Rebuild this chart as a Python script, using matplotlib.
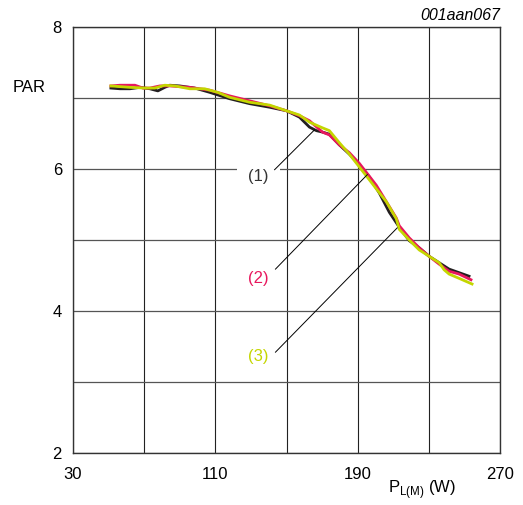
import matplotlib
matplotlib.use('Agg')
import matplotlib.pyplot as plt

plt.rcParams['font.family'] = ['Liberation Sans', 'DejaVu Sans']

# curve (1) - black
x1 = [51.3, 56.4, 62.0, 67.6, 73.2, 77.7, 81.6, 84.4, 90.0, 98.4, 106.8, 118.0, 129.3, 140.5,
      150.0, 157.3, 162.9, 166.8, 170.2, 174.1, 179.7, 185.3, 190.9, 196.5, 202.2, 207.8,
      213.4, 219.0, 224.6, 230.2, 235.8, 241.4, 247.0, 252.6]
y1 = [7.14, 7.13, 7.13, 7.15, 7.13, 7.10, 7.15, 7.18, 7.17, 7.14, 7.08, 6.99, 6.92, 6.87,
      6.82, 6.73, 6.59, 6.54, 6.52, 6.49, 6.34, 6.21, 6.06, 5.89, 5.66, 5.39,
      5.18, 4.99, 4.89, 4.77, 4.68, 4.59, 4.54, 4.49]

# curve (2) - red
x2 = [51.3, 56.4, 64.8, 69.3, 73.2, 78.8, 84.4, 95.6, 106.8, 118.0, 129.3, 140.5, 150.0,
      157.3, 162.9, 170.2, 174.1, 179.7, 185.3, 190.9, 196.5, 200.5, 206.1, 211.7, 213.4,
      219.0, 224.6, 230.2, 235.8, 241.4, 247.0, 253.7]
y2 = [7.17, 7.18, 7.18, 7.14, 7.14, 7.17, 7.17, 7.15, 7.11, 7.03, 6.96, 6.89, 6.82,
      6.75, 6.68, 6.52, 6.48, 6.34, 6.23, 6.08, 5.90, 5.77, 5.54, 5.31, 5.20,
      5.03, 4.89, 4.77, 4.66, 4.56, 4.52, 4.44]

# curve (3) - green
x3 = [51.3, 62.0, 70.4, 76.0, 81.6, 87.2, 95.6, 104.0, 111.3, 118.0, 129.3, 140.5, 150.0,
      157.3, 162.9, 170.2, 174.1, 179.7, 185.3, 190.9, 196.5, 200.5, 206.1, 211.7, 213.4,
      219.0, 224.6, 230.2, 235.8, 238.6, 241.4, 247.0, 254.3]
y3 = [7.17, 7.15, 7.14, 7.14, 7.18, 7.17, 7.13, 7.13, 7.08, 7.01, 6.94, 6.90, 6.82,
      6.76, 6.66, 6.58, 6.54, 6.37, 6.21, 6.03, 5.85, 5.72, 5.54, 5.30, 5.15,
      5.00, 4.86, 4.77, 4.68, 4.58, 4.52, 4.46, 4.38]

xticks = [30, 110, 190, 270]
yticks = [2, 4, 6, 8]

black = '#231f20'
red = '#e8175d'
green = '#c4d600'

fig = plt.figure(figsize=(5.23, 5.05), dpi=100)
ax = fig.add_axes([73/523, 1-453/505, 427/523, 426/505])

# grid
for gx in range(30, 271, 40):
    ax.axvline(gx, color='#222222', lw=0.8, zorder=1)
for gy in range(2, 9):
    ax.axhline(gy, color='#555555', lw=0.9, zorder=1)

ax.plot(x1, y1, color=black, lw=2.0, zorder=3)
ax.plot(x2, y2, color=red, lw=2.0, zorder=4)
ax.plot(x3, y3, color=green, lw=2.0, zorder=5)

# annotation leaders
ax.plot([143.3, 165.7], [5.99, 6.55], color='black', lw=0.7, zorder=6)
ax.plot([143.8, 195.4], [4.59, 5.92], color='black', lw=0.7, zorder=6)
ax.plot([143.8, 212.2], [3.42, 5.17], color='black', lw=0.7, zorder=6)
ax.text(134.3, 5.89, '(1)', color='#333333', fontsize=12, ha='center', va='center', zorder=2,
        bbox=dict(facecolor='white', edgecolor='none', pad=8))
ax.text(134.3, 4.46, '(2)', color=red, fontsize=12, ha='center', va='center', zorder=7)
ax.text(134.3, 3.36, '(3)', color=green, fontsize=12, ha='center', va='center', zorder=7)

ax.set_xlim(30, 270)
ax.set_ylim(2, 8)
ax.set_xticks(xticks)
ax.set_yticks(yticks)
ax.tick_params(length=0, labelsize=12)
ax.tick_params(axis='x', pad=10)
ax.tick_params(axis='y', pad=8)
for s in ax.spines.values():
    s.set_color('#333333')
    s.set_linewidth(1.0)

fig.text(13/523, 1-88/505, 'PAR', fontsize=12, ha='left', va='center')
fig.text(388/523, 1-490/505, r'P$_{\mathregular{L(M)}}$ (W)', fontsize=12, ha='left', va='center')
fig.text(500/523, 1-15/505, '001aan067', fontsize=11.5, style='italic', ha='right', va='center')

plt.savefig('out.png', dpi=100)
